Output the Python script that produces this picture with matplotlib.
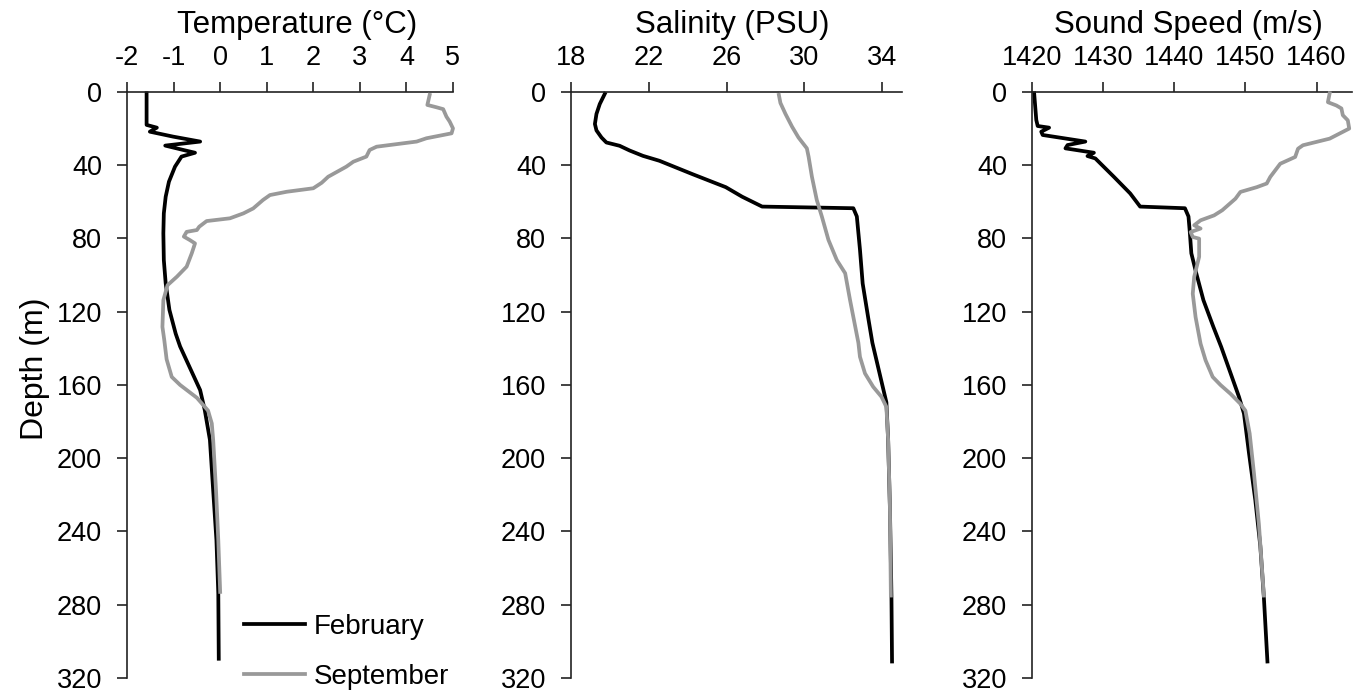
import matplotlib
matplotlib.use('Agg')
import matplotlib.pyplot as plt

plt.rcParams['font.family'] = ['Liberation Sans', 'DejaVu Sans']
plt.rcParams['axes.unicode_minus'] = False

# --- February profiles (depth in m) ---
feb_t_depth = [0.7, 15.3, 18.0, 19.5, 21.7, 24.4, 27.1, 29.3, 31.7, 33.2, 35.3, 40.8,
               49.0, 57.2, 66.3, 77.2, 91.8, 104.5, 119.0, 132.0, 139.0, 162.8,
               173.8, 190.0, 217.5, 244.8, 273.9, 309.5]
feb_temp = [-1.58, -1.58, -1.58, -1.36, -1.51, -1.01, -0.43, -1.18, -0.79, -0.54, -0.83,
            -0.97, -1.10, -1.17, -1.21, -1.22, -1.21, -1.17, -1.09, -0.955, -0.86, -0.43,
            -0.33, -0.22, -0.15, -0.08, -0.04, -0.03]

feb_s_depth = [1.0, 6.6, 12.0, 17.5, 21.0, 24.9, 27.6, 29.4, 32.0, 34.9, 37.6, 44.9,
               52.0, 57.2, 62.6, 63.5, 68.0, 86.0, 104.6, 123.0, 137.0, 169.5, 190.0,
               226.6, 275.0, 311.0]
feb_sal = [19.74, 19.48, 19.31, 19.23, 19.31, 19.57, 19.82, 20.5, 21.02, 21.7, 22.55,
           24.25, 25.96, 26.8, 27.83, 32.52, 32.7, 32.86, 33.0, 33.28, 33.5, 34.22,
           34.31, 34.4, 34.48, 34.51]

feb_c_depth = [0.7, 15.3, 18.6, 19.5, 21.7, 23.5, 27.1, 29.0, 30.8, 33.2, 35.0, 36.3,
               46.3, 55.4, 62.6, 63.5, 68.0, 77.2, 88.1, 99.1, 113.7, 128.3, 139.2,
               166.5, 175.6, 197.0, 223.0, 248.0, 276.0, 311.0]
feb_speed = [1420.3, 1420.6, 1420.8, 1422.4, 1421.3, 1421.5, 1427.5, 1425.0, 1424.7,
             1428.7, 1427.8, 1428.9, 1431.5, 1433.8, 1435.2, 1441.5, 1442.0, 1442.2,
             1442.4, 1443.1, 1444.1, 1445.5, 1446.6, 1449.1, 1449.8, 1450.5, 1451.4,
             1452.1, 1452.6, 1453.1]

# --- September profiles ---
sep_t_depth = [1.6, 7.1, 8.4, 9.4, 13.5, 16.2, 19.9, 22.6, 25.3, 27.1, 29.9, 31.7, 35.3,
               38.1, 40.8, 46.3, 49.6, 52.6, 54.5, 56.3, 59.0, 63.6, 66.3, 69.0, 70.5,
               73.6, 75.4, 76.4, 79.0, 80.9, 82.7, 88.1, 95.4, 100.9, 105.5, 113.7,
               128.3, 135.5, 146.0, 155.6, 160.0, 167.0, 174.0, 181.0, 190.0, 217.0,
               245.0, 273.0]
sep_temp = [4.50, 4.45, 4.65, 4.79, 4.86, 4.93, 5.0, 4.97, 4.43, 4.22, 3.36, 3.21, 3.14,
            2.86, 2.71, 2.32, 2.18, 2.0, 1.43, 1.07, 0.92, 0.71, 0.50, 0.21, -0.29,
            -0.45, -0.50, -0.72, -0.78, -0.65, -0.54, -0.61, -0.72, -0.93, -1.13, -1.22,
            -1.24, -1.20, -1.15, -1.04, -0.86, -0.50, -0.26, -0.18, -0.15, -0.09, -0.04,
            0.0]

sep_s_depth = [1.6, 6.0, 12.0, 19.0, 24.9, 30.8, 35.4, 46.3, 59.0, 68.0, 80.8, 91.8,
               99.0, 113.6, 137.0, 144.6, 153.7, 161.0, 166.5, 172.0, 190.0, 226.0, 275.0]
sep_sal = [28.69, 28.77, 29.03, 29.37, 29.7, 30.13, 30.22, 30.39, 30.64, 30.9, 31.24,
           31.67, 32.1, 32.35, 32.78, 32.86, 33.12, 33.54, 33.97, 34.22, 34.31, 34.4, 34.45]

sep_c_depth = [0.7, 5.6, 7.4, 9.0, 12.7, 15.5, 20.0, 21.8, 25.5, 29.1, 31.0, 35.5, 39.2,
               46.4, 50.0, 52.0, 54.6, 58.3, 64.6, 67.4, 70.1, 72.8, 74.6, 76.5, 79.2,
               80.1, 90.0, 101.0, 110.2, 123.0, 137.5, 146.5, 155.6, 160.0, 164.8, 170.3,
               174.0, 186.5, 208.0, 236.0, 275.0]
sep_speed = [1461.85, 1461.6, 1462.8, 1463.5, 1463.7, 1464.4, 1464.6, 1463.7, 1461.85,
             1458.1, 1457.4, 1457.0, 1454.9, 1453.5, 1453.0, 1451.6, 1449.3, 1448.6,
             1446.75, 1445.6, 1443.7, 1442.8, 1443.7, 1442.3, 1442.6, 1443.5, 1443.5,
             1442.8, 1442.6, 1443.0, 1443.7, 1444.4, 1445.4, 1446.5, 1447.9, 1449.3,
             1450.0, 1450.6, 1451.2, 1451.9, 1452.6]

depth_ticks = [0, 40, 80, 120, 160, 200, 240, 280, 320]
temp_ticks = [-2, -1, 0, 1, 2, 3, 4, 5]
sal_ticks = [18, 22, 26, 30, 34]
speed_ticks = [1420, 1430, 1440, 1450, 1460]

FEB_COLOR = 'black'
SEP_COLOR = '#999999'

fig = plt.figure(figsize=(13.66, 6.96), dpi=100)
bottom, height = 0.0259, 0.842
ax1 = fig.add_axes([0.093, bottom, 0.2386, height])
ax2 = fig.add_axes([0.418, bottom, 0.242, height])
ax3 = fig.add_axes([0.7555, bottom, 0.2343, height])

# axes, feb depth, feb values, sep depth, sep values, ticks, xlim, title, title x
panels = [
    (ax1, feb_t_depth, feb_temp, sep_t_depth, sep_temp, temp_ticks, (-2, 5), 'Temperature (°C)', 0.523),
    (ax2, feb_s_depth, feb_sal, sep_s_depth, sep_sal, sal_ticks, (18, 35), 'Salinity (PSU)', 0.488),
    (ax3, feb_c_depth, feb_speed, sep_c_depth, sep_speed, speed_ticks, (1420, 1465), 'Sound Speed (m/s)', 0.4875),
]

for ax, fd, fv, sd, sv, xt, xl, title, tx in panels:
    # September drawn over February, as in the original
    ax.plot(fv, fd, color=FEB_COLOR, lw=2.7, label='February', clip_on=False, zorder=2)
    ax.plot(sv, sd, color=SEP_COLOR, lw=2.7, label='September', clip_on=False, zorder=3)
    ax.set_xlim(*xl)
    ax.set_ylim(320, 0)
    ax.set_xticks(xt)
    ax.set_yticks(depth_ticks)
    ax.xaxis.tick_top()
    ax.xaxis.set_label_position('top')
    ax.set_xlabel(title, fontsize=22.5, labelpad=9)
    ax.xaxis.label.set_x(tx)
    ax.tick_params(axis='both', direction='out', length=7, width=1.2, labelsize=19.5,
                   color='#222222')
    ax.tick_params(axis='x', pad=8)
    ax.tick_params(axis='y', pad=11)
    for s in ['right', 'bottom']:
        ax.spines[s].set_visible(False)
    for s in ['left', 'top']:
        ax.spines[s].set_linewidth(1.2)
        ax.spines[s].set_color('#222222')

ax1.set_ylabel('Depth (m)', fontsize=23, labelpad=5)
ax1.yaxis.label.set_y(0.527)

ax1.legend(loc='lower right', frameon=False, fontsize=20,
           handlelength=2.2, handletextpad=0.3, labelspacing=0.85, borderaxespad=0,
           borderpad=0, bbox_to_anchor=(0.988, -0.02))

fig.savefig('out.png', dpi=100)
